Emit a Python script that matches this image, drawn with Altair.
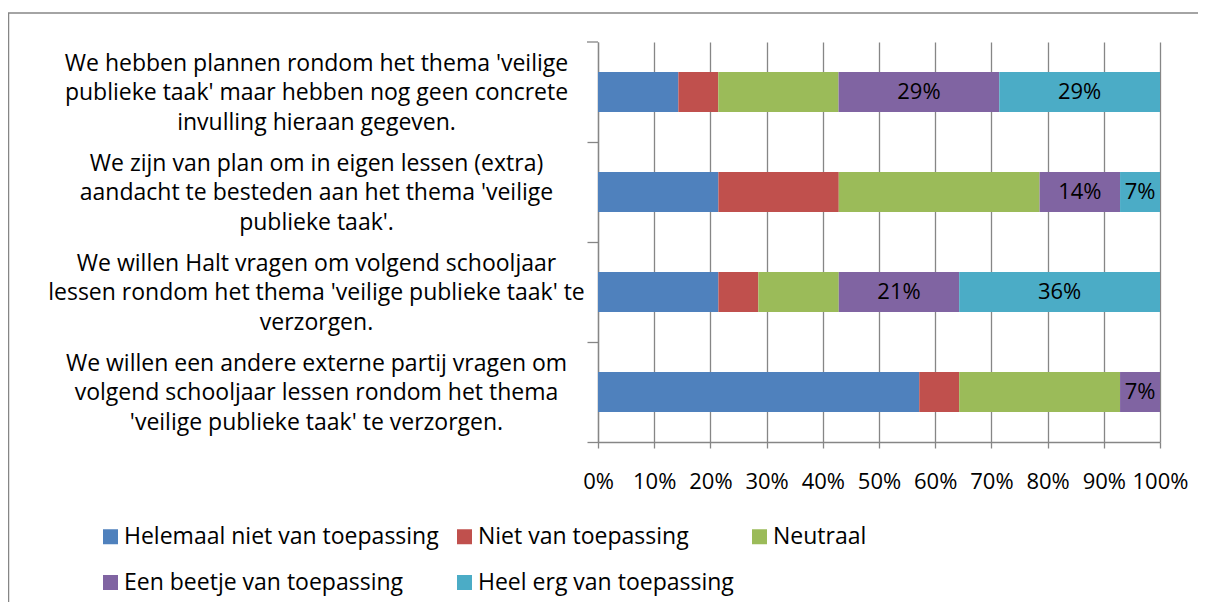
import altair as alt
import pandas as pd

categories = [
    "We hebben plannen rondom het thema 'veilige|publieke taak' maar hebben nog geen concrete|invulling hieraan gegeven.",
    "We zijn van plan om in eigen lessen (extra)|aandacht te besteden aan het thema 'veilige|publieke taak'.",
    "We willen Halt vragen om volgend schooljaar|lessen rondom het thema 'veilige publieke taak' te|verzorgen.",
    "We willen een andere externe partij vragen om|volgend schooljaar lessen rondom het thema|'veilige publieke taak' te verzorgen.",
]
series = [
    "Helemaal niet van toepassing",
    "Niet van toepassing",
    "Neutraal",
    "Een beetje van toepassing",
    "Heel erg van toepassing",
]
colors = ["#4F81BD", "#C0504D", "#9BBB59", "#8064A2", "#4BACC6"]

helemaal_niet = [14.3, 21.4, 21.4, 57.1]
niet = [7.1, 21.4, 7.1, 7.1]
neutraal = [21.4, 35.7, 14.3, 28.6]
een_beetje = [28.6, 14.3, 21.4, 7.1]
heel_erg = [28.6, 7.1, 35.7, 0.0]
labelled_series = ["Een beetje van toepassing", "Heel erg van toepassing"]
x_ticks = [0, 0.1, 0.2, 0.3, 0.4, 0.5, 0.6, 0.7, 0.8, 0.9, 1.0]

values = [helemaal_niet, niet, neutraal, een_beetje, heel_erg]
rows = []
for si, (s, vals) in enumerate(zip(series, values)):
    for ci, c in enumerate(categories):
        rows.append({"cat": c, "series": s, "order": si, "value": vals[ci],
                     "labelled": s in labelled_series})
df = pd.DataFrame(rows)

FONT = "Open Sans"
FS_TEXT = 23
FS_NUM = 22
GRID = "#868686"
LH = 29.7

base = alt.Chart(df).transform_stack(
    stack="value", as_=["x0", "x1"], groupby=["cat"],
    sort=[alt.SortField("order")], offset="normalize"
).transform_calculate(mid="(datum.x0 + datum.x1) / 2", pct="datum.value / 100")

y_enc = alt.Y(
    "cat:N", sort=categories, title=None,
    scale=alt.Scale(paddingInner=0.6, paddingOuter=0.3),
    axis=alt.Axis(
        labelExpr="split(datum.label, '|')",
        labelAlign="center", labelBaseline="middle",
        labelPadding=271, labelLimit=0, labelLineHeight=LH, labelOffset=-LH + 1.5,
        labelFont=FONT, labelFontSize=FS_TEXT, labelColor="#000000",
        bandPosition=1.75, tickSize=11, tickColor=GRID,
        tickWidth=1.3, domainColor=GRID, domainWidth=1.3, grid=False,
    ),
)

bars = base.mark_bar(strokeWidth=0).encode(
    y=y_enc,
    x=alt.X(
        "x0:Q", title=None,
        scale=alt.Scale(domain=[0, 1], nice=False, zero=True),
        axis=alt.Axis(
            values=x_ticks, format=".0%", grid=True, gridColor=GRID, gridWidth=1.3,
            domainColor=GRID, domainWidth=1.3, tickColor=GRID, tickWidth=1.3,
            tickSize=6, labelPadding=23, labelFont=FONT, labelFontSize=FS_NUM,
            labelColor="#000000", labelFlush=False,
        ),
    ),
    x2="x1:Q",
    color=alt.Color(
        "series:N", sort=series,
        scale=alt.Scale(domain=series, range=colors),
        legend=alt.Legend(
            title=None, orient="none", legendX=-499, legendY=483,
            direction="horizontal", columns=3, gridAlign="each",
            columnPadding=14, rowPadding=22, symbolType="square",
            symbolSize=225, symbolStrokeWidth=0, labelFont=FONT,
            labelFontSize=FS_TEXT, labelLimit=0, labelOffset=2, labelColor="#000000",
        ),
    ),
    order=alt.Order("order:Q"),
)

texts = base.transform_filter("datum.labelled && datum.value > 0").mark_text(
    font=FONT, fontSize=FS_NUM, color="#000000", baseline="middle", align="center"
).encode(
    y=alt.Y("cat:N", sort=categories),
    x=alt.X("mid:Q"),
    text=alt.Text("pct:Q", format=".0%"),
)

top_tick = alt.Chart(pd.DataFrame({"f": [0]})).mark_rule(
    color=GRID, strokeWidth=1.3
).encode(x=alt.value(-11), x2=alt.value(0), y=alt.value(0))

frame = alt.Chart(pd.DataFrame({"f": [0]})).mark_rect(
    fill=None, stroke=GRID, strokeWidth=1.5
).encode(
    x=alt.value(-589.5), x2=alt.value(700), y=alt.value(-29), y2=alt.value(700)
)

chart = alt.layer(frame, bars, texts, top_tick).properties(
    width=562, height=400,
    autosize=alt.AutoSizeParams(type="none"),
    padding={"left": 590, "top": 34, "right": 38, "bottom": 160},
).configure_view(stroke=None)

chart.save("out.html", embed_options={"renderer": "svg", "actions": False})
